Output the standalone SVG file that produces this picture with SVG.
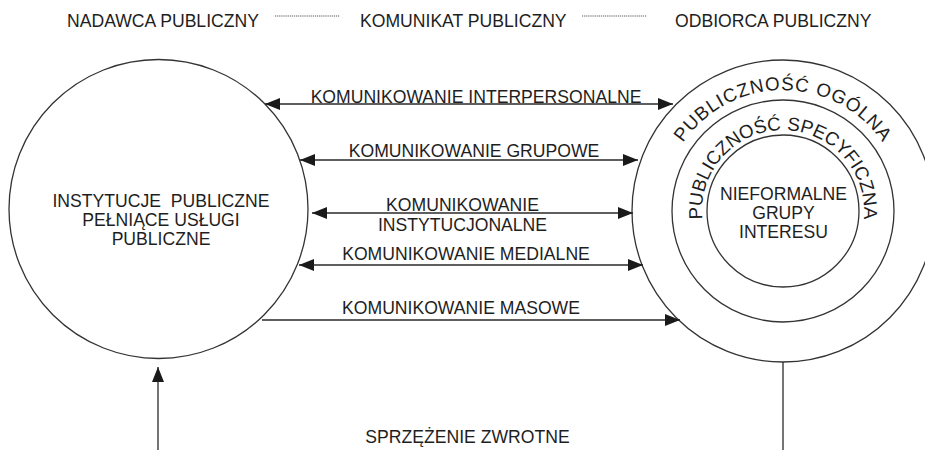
<svg xmlns="http://www.w3.org/2000/svg" width="925" height="450" viewBox="0 0 925 450">
<style>
text{font-family:"Liberation Sans",Arial,sans-serif;font-size:17.6px;fill:#1e1e1e}
.c{fill:none;stroke:#333;stroke-width:1.3}
.ln{fill:none;stroke:#2a2a2a;stroke-width:1.3}
.dot{stroke:#555;stroke-width:1;stroke-dasharray:1.2 0.9}
.m{text-anchor:middle}
.ring{font-size:18.8px}
</style>
<defs>
<marker id="ah" viewBox="0 0 15 12" refX="15" refY="6" markerWidth="15" markerHeight="12" markerUnits="userSpaceOnUse" orient="auto-start-reverse">
<path d="M0,0 L15,6 L0,12 Z" fill="#1a1a1a"/>
</marker>
<path id="ringOuter" d="M697.4,296.6 A121,121 0 1,1 868.6,296.6"/>
<path id="ringMid" d="M725.7,268.3 A81,81 0 1,1 840.3,268.3"/>
</defs>
<g id="header">
<text x="67" y="27">NADAWCA PUBLICZNY</text>
<line class="dot" x1="275" y1="16" x2="340" y2="16"/>
<text x="360" y="27">KOMUNIKAT PUBLICZNY</text>
<line class="dot" x1="582" y1="16" x2="647" y2="16"/>
<text x="675" y="27">ODBIORCA PUBLICZNY</text>
</g>
<g id="nadawca">
<circle class="c" cx="158.5" cy="209" r="149.5"/>
<text class="m" x="161" y="207" xml:space="preserve">INSTYTUCJE  PUBLICZNE</text>
<text class="m" x="161" y="226">PEŁNIĄCE USŁUGI</text>
<text class="m" x="161" y="245">PUBLICZNE</text>
</g>
<g id="publicznosc-ogolna">
<circle class="c" cx="783" cy="211" r="151"/>
<text class="ring" style="letter-spacing:0.9px"><textPath href="#ringOuter" startOffset="50%" text-anchor="middle">PUBLICZNOŚĆ OGÓLNA</textPath></text>
</g>
<g id="publicznosc-specyficzna">
<circle class="c" cx="783" cy="211" r="111"/>
<text class="ring"><textPath href="#ringMid" startOffset="50%" text-anchor="middle">PUBLICZNOŚĆ SPECYFICZNA</textPath></text>
</g>
<g id="grupy-interesu">
<circle class="c" cx="783" cy="211" r="76"/>
<text class="m" x="783.5" y="200">NIEFORMALNE</text>
<text class="m" x="783.5" y="219">GRUPY</text>
<text class="m" x="783.5" y="238">INTERESU</text>
</g>
<g id="connectors">
<line class="ln" x1="265" y1="104" x2="673" y2="104" marker-start="url(#ah)" marker-end="url(#ah)"/>
<line class="ln" x1="300" y1="160" x2="638" y2="160" marker-start="url(#ah)" marker-end="url(#ah)"/>
<line class="ln" x1="312" y1="213" x2="633" y2="213" marker-start="url(#ah)" marker-end="url(#ah)"/>
<line class="ln" x1="299" y1="265" x2="643" y2="265" marker-start="url(#ah)" marker-end="url(#ah)"/>
<line class="ln" x1="262" y1="320" x2="680" y2="320" marker-end="url(#ah)"/>
<line class="ln" x1="158" y1="450" x2="158" y2="367" marker-end="url(#ah)"/>
<line class="ln" x1="783" y1="362" x2="783" y2="450"/>
</g>
<g id="labels">
<text class="m" x="476" y="102.5">KOMUNIKOWANIE INTERPERSONALNE</text>
<text class="m" x="474" y="157">KOMUNIKOWANIE GRUPOWE</text>
<text class="m" x="462.5" y="210.5">KOMUNIKOWANIE</text>
<text class="m" x="462.5" y="230.5">INSTYTUCJONALNE</text>
<text class="m" x="466" y="260">KOMUNIKOWANIE MEDIALNE</text>
<text class="m" x="461" y="314">KOMUNIKOWANIE MASOWE</text>
<text class="m" x="467.5" y="443">SPRZĘŻENIE ZWROTNE</text>
</g>
</svg>
